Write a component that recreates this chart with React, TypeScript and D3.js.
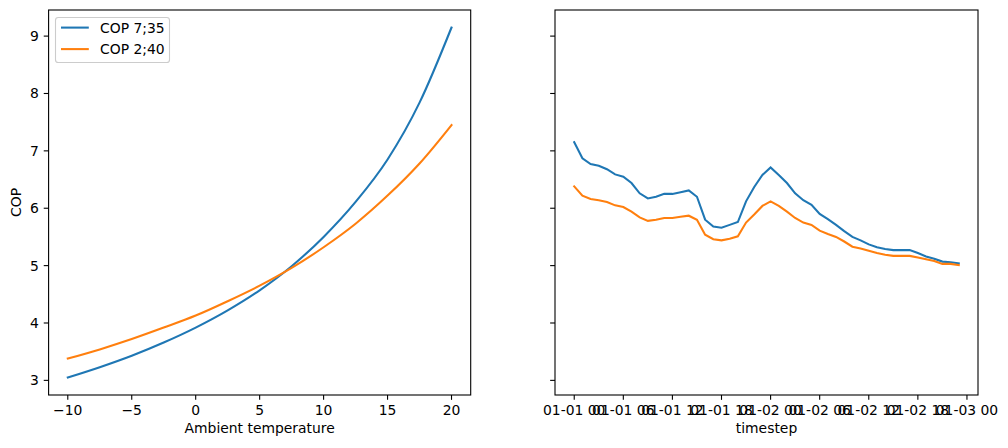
import React from "react";
import * as d3 from "d3";

// Left panel: COP vs ambient temperature
const ambientTemp = [-10, -7.5, -5, -2.5, 0, 2.5, 5, 7.5, 10, 12.5, 15, 17.5, 20];
const cop735 = [3.05, 3.23, 3.43, 3.66, 3.92, 4.22, 4.57, 4.99, 5.5, 6.11, 6.85, 7.84, 9.15];
const cop240 = [3.38, 3.54, 3.72, 3.92, 4.13, 4.38, 4.65, 4.96, 5.32, 5.73, 6.22, 6.78, 7.45];

// Right panel: hourly timeseries
const startTime = Date.UTC(2020, 0, 1, 0, 0);
const hourIndex = Array.from({ length: 48 }, (_, i) => i);
const tsCop735 = [
  7.15, 6.87, 6.77, 6.74, 6.68, 6.59, 6.55, 6.44, 6.26, 6.17, 6.2, 6.25, 6.25, 6.28, 6.31, 6.2,
  5.8, 5.68, 5.66, 5.71, 5.76, 6.12, 6.37, 6.58, 6.71, 6.58, 6.44, 6.26, 6.14, 6.06, 5.9, 5.81,
  5.71, 5.6, 5.5, 5.44, 5.37, 5.32, 5.29, 5.27, 5.27, 5.27, 5.22, 5.16, 5.12, 5.07, 5.06, 5.04,
];
const tsCop240 = [
  6.38, 6.22, 6.16, 6.14, 6.11, 6.05, 6.02, 5.94, 5.84, 5.78, 5.8, 5.83, 5.83, 5.85, 5.87, 5.8,
  5.54, 5.46, 5.44, 5.47, 5.51, 5.75, 5.89, 6.04, 6.12, 6.04, 5.94, 5.83, 5.75, 5.71, 5.61, 5.55,
  5.5, 5.42, 5.33, 5.3, 5.26, 5.22, 5.19, 5.17, 5.17, 5.17, 5.14, 5.11, 5.08, 5.03, 5.03, 5.01,
];

const leftTicks = [-10, -5, 0, 5, 10, 15, 20];
const yTicks = [3, 4, 5, 6, 7, 8, 9];
const timeTickHours = [0, 6, 12, 18, 24, 30, 36, 42, 48];
const seriesNames = ["COP 7;35", "COP 2;40"];
const colors = ["#1f77b4", "#ff7f0e"];

const W = 1008;
const H = 448;
const top = 10;
const bottom = 395;
const L1 = 48.6;
const R1 = 470.7;
const L2 = 555;
const R2 = 978;
const FS = 13.9;
const FONT = "DejaVu Sans, sans-serif";

export default function App() {
  const allY = [...cop735, ...cop240, ...tsCop735, ...tsCop240];
  const yMin = d3.min(allY)!;
  const yMax = d3.max(allY)!;
  const yPad = (yMax - yMin) * 0.05;
  const y = d3.scaleLinear().domain([yMin - yPad, yMax + yPad]).range([bottom, top]);

  const xMin = d3.min(ambientTemp)!;
  const xMax = d3.max(ambientTemp)!;
  const xPad = (xMax - xMin) * 0.05;
  const x1 = d3.scaleLinear().domain([xMin - xPad, xMax + xPad]).range([L1, R1]);

  const hr = 3600 * 1000;
  const times = hourIndex.map((h) => new Date(startTime + h * hr));
  const tPad = 47 * 0.05;
  const x2 = d3
    .scaleUtc()
    .domain([new Date(startTime - tPad * hr), new Date(startTime + (47 + tPad) * hr)])
    .range([L2, R2]);
  const fmt = d3.utcFormat("%m-%d %H");

  const line1 = d3
    .line<number>()
    .x((_, i) => x1(ambientTemp[i]))
    .y((d) => y(d))
    .curve(d3.curveMonotoneX);
  const line2 = d3
    .line<number>()
    .x((_, i) => x2(times[i]))
    .y((d) => y(d));

  const tickLen = 4.86;
  const pad = 4.86;
  const xLabelY = bottom + tickLen + pad + 10.6;

  return (
    <svg
      width={W}
      height={H}
      style={{ position: "absolute", left: 0, top: 0, background: "#fff" }}
      fontFamily={FONT}
    >
      <rect x={0} y={0} width={W} height={H} fill="#fff" />
      {/* Left panel lines */}
      <g fill="none" strokeWidth={2.08} strokeLinecap="square">
        <path d={line1(cop735)!} stroke={colors[0]} />
        <path d={line1(cop240)!} stroke={colors[1]} />
      </g>
      {/* Right panel lines */}
      <g fill="none" strokeWidth={2.08} strokeLinecap="square">
        <path d={line2(tsCop735)!} stroke={colors[0]} />
        <path d={line2(tsCop240)!} stroke={colors[1]} />
      </g>

      {/* Frames */}
      <rect x={L1} y={top} width={R1 - L1} height={bottom - top} fill="none" stroke="#000" strokeWidth={1.1} />
      <rect x={L2} y={top} width={R2 - L2} height={bottom - top} fill="none" stroke="#000" strokeWidth={1.1} />

      {/* Y ticks left */}
      {yTicks.map((t) => (
        <g key={"yl" + t}>
          <line x1={L1} x2={L1 - tickLen} y1={y(t)} y2={y(t)} stroke="#000" strokeWidth={1.1} />
          <text x={L1 - tickLen - pad} y={y(t)} dy="0.36em" textAnchor="end" fontSize={FS}>
            {t}
          </text>
          <line x1={L2} x2={L2 - tickLen} y1={y(t)} y2={y(t)} stroke="#000" strokeWidth={1.1} />
        </g>
      ))}

      {/* X ticks left */}
      {leftTicks.map((t) => (
        <g key={"xl" + t}>
          <line x1={x1(t)} x2={x1(t)} y1={bottom} y2={bottom + tickLen} stroke="#000" strokeWidth={1.1} />
          <text x={x1(t)} y={xLabelY} textAnchor="middle" fontSize={FS}>
            {t < 0 ? "\u2212" + Math.abs(t) : String(t)}
          </text>
        </g>
      ))}

      {/* X ticks right */}
      {timeTickHours.map((h) => {
        const d = new Date(startTime + h * hr);
        return (
          <g key={"xr" + h}>
            <line x1={x2(d)} x2={x2(d)} y1={bottom} y2={bottom + tickLen} stroke="#000" strokeWidth={1.1} />
            <text x={x2(d)} y={xLabelY} textAnchor="middle" fontSize={FS}>
              {fmt(d)}
            </text>
          </g>
        );
      })}

      {/* Axis labels */}
      <text x={(L1 + R1) / 2} y={433} textAnchor="middle" fontSize={FS}>
        Ambient temperature
      </text>
      <text x={(L2 + R2) / 2} y={433} textAnchor="middle" fontSize={FS}>
        timestep
      </text>
      <text
        transform={`translate(${21}, ${(top + bottom) / 2}) rotate(-90)`}
        textAnchor="middle"
        fontSize={FS}
      >
        COP
      </text>

      {/* Legend */}
      <g>
        <rect x={55.5} y={17.5} width={114} height={45} rx={2.8} fill="#fff" fillOpacity={0.8} stroke="#cccccc" strokeWidth={1.1} />
        {seriesNames.map((name, i) => (
          <g key={name}>
            <line x1={61} x2={88.8} y1={27.6 + i * 21.5} y2={27.6 + i * 21.5} stroke={colors[i]} strokeWidth={2.08} />
            <text x={100} y={32.5 + i * 21.5} fontSize={FS}>
              {name}
            </text>
          </g>
        ))}
      </g>
    </svg>
  );
}
